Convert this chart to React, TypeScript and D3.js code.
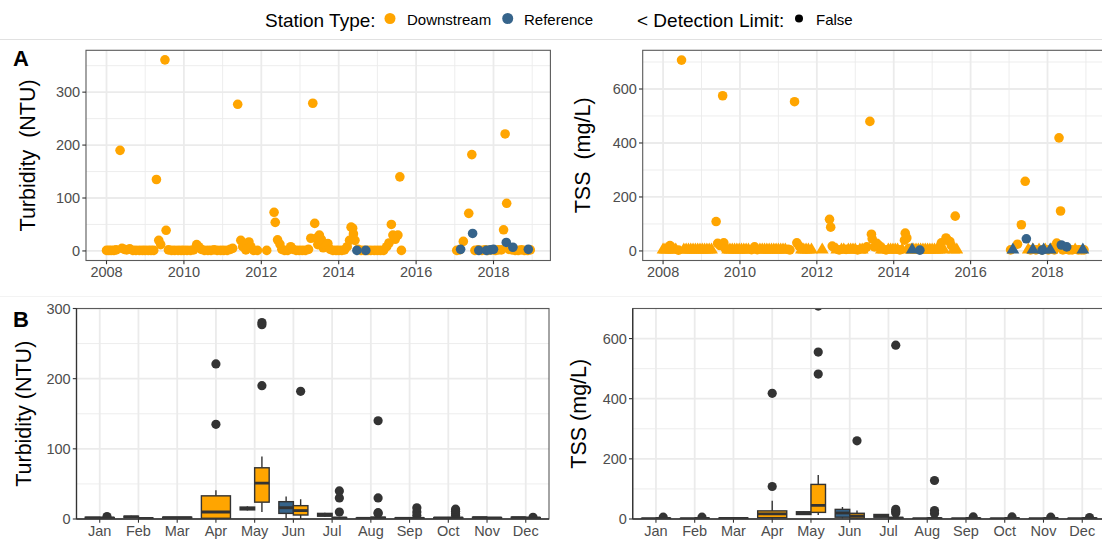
import React from 'react';
import * as d3 from 'd3';

// ---- palette ----
const ORANGE = '#FFA500';
const BLUE = '#36648B';
const DARK = '#333333';
const GRID = '#EBEBEB';

// ---- axis ticks ----
const YEAR_MAJOR = [2008, 2010, 2012, 2014, 2016, 2018];
const YEAR_MINOR = [2009, 2011, 2013, 2015, 2017, 2019];
const MONTHS = ['Jan', 'Feb', 'Mar', 'Apr', 'May', 'Jun', 'Jul', 'Aug', 'Sep', 'Oct', 'Nov', 'Dec'];

// ---- turbidity samples: [decimal year, NTU] ----
const turbDownstream: [number, number][] = [
  [2008.0, 1], [2008.06, 1], [2008.12, 1], [2008.19, 1], [2008.25, 2], [2008.35, 190], [2008.4, 5],
  [2008.46, 3], [2008.52, 2], [2008.6, 4], [2008.68, 1], [2008.76, 1], [2008.85, 1], [2008.93, 1],
  [2009.0, 1], [2009.08, 1], [2009.15, 1], [2009.22, 1], [2009.29, 135], [2009.35, 20], [2009.4, 12],
  [2009.51, 361], [2009.54, 39], [2009.6, 2], [2009.68, 1], [2009.76, 1], [2009.85, 1], [2009.93, 1],
  [2010.0, 1], [2010.08, 1], [2010.17, 1], [2010.25, 2], [2010.33, 12], [2010.38, 8], [2010.45, 3],
  [2010.53, 1], [2010.62, 1], [2010.7, 1], [2010.78, 2], [2010.86, 1], [2010.95, 1], [2011.03, 1],
  [2011.12, 1], [2011.2, 3], [2011.26, 5], [2011.39, 277], [2011.47, 20], [2011.52, 8], [2011.6, 2],
  [2011.68, 17], [2011.73, 8], [2011.8, 1], [2011.9, 1], [2012.14, 1], [2012.33, 73], [2012.36, 54],
  [2012.42, 21], [2012.48, 13], [2012.53, 3], [2012.6, 1], [2012.68, 1], [2012.76, 8], [2012.82, 3],
  [2012.9, 1], [2012.98, 1], [2013.06, 1], [2013.14, 1], [2013.22, 3], [2013.28, 24], [2013.33, 279],
  [2013.38, 52], [2013.42, 24], [2013.46, 12], [2013.5, 30], [2013.55, 22], [2013.6, 6], [2013.66, 10],
  [2013.72, 14], [2013.78, 3], [2013.85, 1], [2013.93, 1], [2014.0, 1], [2014.08, 1], [2014.15, 2],
  [2014.22, 8], [2014.28, 20], [2014.32, 45], [2014.36, 43], [2014.38, 32], [2014.42, 20], [2014.5, 3],
  [2014.58, 1], [2014.66, 1], [2014.75, 1], [2014.83, 1], [2014.92, 1], [2015.0, 1], [2015.08, 1],
  [2015.16, 1], [2015.24, 8], [2015.3, 15], [2015.36, 50], [2015.4, 30], [2015.46, 22], [2015.53, 30],
  [2015.58, 140], [2015.62, 1],
  [2017.05, 1], [2017.12, 2], [2017.22, 18], [2017.36, 71], [2017.44, 182], [2017.52, 1], [2017.6, 2],
  [2017.7, 1], [2017.78, 2], [2017.85, 1], [2017.95, 2], [2018.05, 1], [2018.12, 2], [2018.2, 2],
  [2018.26, 40], [2018.3, 221], [2018.34, 90], [2018.4, 3], [2018.48, 2], [2018.56, 1], [2018.64, 1],
  [2018.72, 2], [2018.8, 1], [2018.88, 1], [2018.95, 2],
];
const turbReference: [number, number][] = [
  [2014.47, 1], [2014.7, 1], [2017.15, 3], [2017.46, 33], [2017.62, 1], [2017.82, 1], [2017.92, 2],
  [2018.0, 3], [2018.33, 16], [2018.5, 7], [2018.9, 3],
];

// ---- TSS samples: [decimal year, mg/L, below detection limit (1) or not (0)] ----
const tssDownstream: [number, number, number][] = [
  [2008.0, 4, 1], [2008.05, 4, 1], [2008.1, 4, 1], [2008.14, 10, 0], [2008.18, 20, 0], [2008.22, 4, 1],
  [2008.28, 4, 1], [2008.33, 4, 1], [2008.4, 3, 0], [2008.48, 707, 0], [2008.54, 4, 1], [2008.6, 4, 1],
  [2008.66, 4, 1], [2008.72, 4, 1], [2008.78, 4, 1], [2008.84, 4, 1], [2008.9, 4, 1], [2008.96, 4, 1],
  [2009.02, 4, 1], [2009.08, 4, 1], [2009.14, 4, 1], [2009.2, 4, 1], [2009.26, 4, 1], [2009.38, 109, 0],
  [2009.42, 28, 0], [2009.48, 20, 0], [2009.55, 575, 0], [2009.58, 30, 0], [2009.62, 8, 0], [2009.68, 4, 1],
  [2009.74, 4, 1], [2009.8, 4, 1], [2009.86, 4, 1], [2009.92, 4, 1], [2009.98, 4, 1], [2010.04, 4, 1],
  [2010.1, 4, 1], [2010.16, 4, 1], [2010.22, 4, 1], [2010.3, 5, 0], [2010.38, 15, 0], [2010.45, 5, 0],
  [2010.52, 4, 1], [2010.58, 4, 1], [2010.64, 4, 1], [2010.7, 4, 1], [2010.76, 4, 1], [2010.82, 4, 1],
  [2010.88, 4, 1], [2010.94, 4, 1], [2011.0, 4, 1], [2011.06, 4, 1], [2011.12, 4, 1], [2011.18, 4, 1],
  [2011.25, 6, 0], [2011.3, 4, 0], [2011.42, 553, 0], [2011.48, 30, 0], [2011.54, 18, 0], [2011.6, 4, 1],
  [2011.66, 4, 1], [2011.72, 4, 1], [2011.78, 4, 1], [2011.86, 4, 1], [2012.14, 4, 1], [2012.33, 117, 0],
  [2012.36, 88, 0], [2012.4, 18, 0], [2012.45, 12, 0], [2012.52, 4, 1], [2012.58, 4, 0], [2012.64, 4, 1],
  [2012.7, 4, 1], [2012.76, 6, 0], [2012.82, 4, 1], [2012.88, 4, 1], [2012.94, 4, 1], [2013.0, 4, 1],
  [2013.06, 4, 0], [2013.12, 4, 1], [2013.18, 4, 1], [2013.24, 8, 0], [2013.3, 15, 0], [2013.38, 480, 0],
  [2013.42, 62, 0], [2013.44, 45, 0], [2013.5, 15, 0], [2013.56, 28, 0], [2013.62, 20, 0], [2013.68, 4, 1],
  [2013.74, 4, 1], [2013.8, 4, 0], [2013.86, 4, 1], [2013.92, 4, 1], [2013.98, 4, 1], [2014.04, 4, 1],
  [2014.1, 4, 1], [2014.16, 4, 0], [2014.22, 4, 1], [2014.28, 40, 0], [2014.3, 66, 0], [2014.34, 48, 0],
  [2014.4, 10, 0], [2014.46, 4, 1], [2014.52, 4, 1], [2014.58, 4, 1], [2014.64, 4, 1], [2014.7, 4, 1],
  [2014.76, 4, 1], [2014.82, 4, 1], [2014.88, 4, 1], [2014.94, 4, 1], [2015.0, 4, 1], [2015.06, 4, 1],
  [2015.12, 4, 1], [2015.18, 4, 1], [2015.24, 30, 0], [2015.3, 4, 1], [2015.36, 48, 0], [2015.4, 40, 0],
  [2015.46, 35, 0], [2015.5, 20, 0], [2015.56, 4, 1], [2015.6, 129, 0], [2015.64, 4, 1],
  [2017.04, 4, 0], [2017.22, 25, 0], [2017.32, 97, 0], [2017.42, 258, 0], [2017.5, 4, 1], [2017.56, 4, 0],
  [2017.62, 4, 1], [2017.7, 4, 0], [2017.78, 4, 1], [2017.86, 4, 0], [2017.94, 4, 1], [2018.02, 4, 0],
  [2018.1, 4, 1], [2018.18, 4, 0], [2018.24, 29, 0], [2018.3, 419, 0], [2018.34, 148, 0], [2018.4, 4, 0],
  [2018.48, 4, 1], [2018.56, 4, 0], [2018.64, 4, 0], [2018.72, 4, 1], [2018.8, 4, 0], [2018.88, 4, 0],
  [2018.95, 4, 0],
];
const tssReference: [number, number, number][] = [
  [2014.48, 4, 1], [2014.68, 3, 0], [2017.1, 4, 1], [2017.45, 45, 0], [2017.62, 4, 1], [2017.86, 3, 0],
  [2017.9, 4, 1], [2018.07, 4, 1], [2018.36, 22, 0], [2018.5, 15, 0], [2018.92, 4, 1],
];

// ---- monthly box statistics: [month, lower whisker, q1, median, q3, upper whisker] ----
type Box = [number, number, number, number, number, number];
const turbBoxReference: Box[] = [
  [1, 0.5, 1, 1.5, 2.5, 3], [2, 2, 2.5, 3, 4, 4.5], [5, 12, 13, 15, 17, 18], [6, 1, 8, 16, 24.7, 32],
  [7, 3, 4, 6, 8, 9], [8, 0.5, 1, 1, 1.5, 2], [9, 0.5, 1, 1, 1.5, 2], [10, 0.5, 1, 1.5, 2, 2.5],
  [11, 1, 1.5, 2, 2.5, 3], [12, 1, 1.5, 2, 2.5, 3],
];
const turbBoxDownstream: Box[] = [
  [1, 0.5, 1, 1.5, 2, 2.5], [2, 0.5, 1, 1, 1.5, 2], [3, 1, 1.5, 2, 2.5, 3], [4, 0, 1, 10, 33, 41],
  [5, 10, 24, 51, 73, 89], [6, 0, 5.7, 12, 19, 28], [7, 0.5, 1, 1.5, 2, 3], [8, 0.5, 1, 1.5, 2.5, 3.5],
  [9, 0.3, 0.8, 1, 1.5, 2.5], [10, 0.5, 1, 1.5, 2, 3], [11, 0.5, 1, 1.5, 2, 2.5], [12, 0.5, 1, 1.5, 2, 2.5],
];
// outliers: [month, value]
const turbOutDownstream: [number, number][] = [
  [1, 3.5], [4, 135], [4, 221], [5, 190], [5, 277], [5, 280], [6, 182], [7, 10], [7, 30], [7, 40],
  [8, 8], [8, 9], [8, 30], [8, 140], [9, 5], [9, 10], [9, 16], [10, 5], [10, 8], [10, 11], [10, 14], [12, 2.5],
];
const turbOutReference: [number, number][] = [];

const tssBoxReference: Box[] = [
  [1, 0, 0.5, 1, 1.5, 2], [2, 0, 0.5, 1, 1.5, 2], [5, 13, 15, 20, 24, 26], [6, 2, 6, 20, 32, 40],
  [7, 5, 6, 10, 15, 17], [8, 0, 0.5, 1, 1.5, 2], [9, 0, 0.5, 1, 1.5, 2], [10, 0, 0.5, 1, 1.5, 2],
  [11, 0, 0.5, 1, 1.5, 2], [12, 0, 0.5, 1, 1.5, 2],
];
const tssBoxDownstream: Box[] = [
  [1, 0, 1, 2, 3, 4], [2, 0, 1, 2, 3, 4], [3, 0, 1, 2, 3, 4], [4, 0, 4.4, 17, 27, 61],
  [5, 13, 22, 45, 115, 146], [6, 0, 3, 10, 19, 28], [7, 0, 1, 3, 5, 8], [8, 0, 1, 2, 3, 5],
  [9, 0, 1, 2, 3, 4], [10, 0, 1, 2, 3, 4], [11, 0, 1, 2, 3, 4], [12, 0, 1, 2, 3, 4],
];
const tssOutDownstream: [number, number][] = [
  [1, 6], [2, 6], [4, 108], [4, 418], [5, 482], [5, 555], [5, 708], [6, 260], [7, 20], [7, 26], [7, 32],
  [7, 578], [8, 18], [8, 28], [8, 128], [9, 7], [10, 7], [11, 6], [12, 5],
];
const tssOutReference: [number, number][] = [];

const FONT = '"Liberation Sans", Arial, Helvetica, sans-serif';
const TICK_FS = 14.5;
const TITLE_FS = 21.5;

type Frame = { x0: number; x1: number; y0: number; y1: number };

function YAxis({ frame, y, ticks, title, titleX }: any) {
  return (
    <g>
      {ticks.map((t: number) => (
        <g key={t}>
          <line x1={frame.x0 - 3.7} x2={frame.x0} y1={y(t)} y2={y(t)} stroke={DARK} strokeWidth={1.1} />
          <text x={frame.x0 - 5.8} y={y(t)} textAnchor="end" dominantBaseline="central" fontSize={TICK_FS} fill="#4D4D4D">
            {t}
          </text>
        </g>
      ))}
      <text
        transform={`translate(${titleX},${(frame.y0 + frame.y1) / 2}) rotate(-90)`}
        textAnchor="middle"
        dominantBaseline="central"
        fontSize={TITLE_FS}
        fill="#000"
        style={{ whiteSpace: 'pre' }}
      >
        {title}
      </text>
    </g>
  );
}

function ScatterPanel({ id, frame, yDomain, yMajor, yMinor, down, refs, title, titleX }: any) {
  const f: Frame = frame;
  const x = d3.scaleLinear().domain([2007.47, 2019.47]).range([f.x0, f.x1]);
  const y = d3.scaleLinear().domain(yDomain).range([f.y1, f.y0]);
  const tri = d3.symbol().type(d3.symbolTriangle).size(72)() as string;
  const mark = (p: number[], color: string, i: number) =>
    p[2] === 1 ? (
      <path key={i} d={tri} transform={`translate(${x(p[0])},${y(p[1])})`} fill={color} />
    ) : (
      <circle key={i} cx={x(p[0])} cy={y(p[1])} r={4.8} fill={color} />
    );
  return (
    <g>
      <defs>
        <clipPath id={id}>
          <rect x={f.x0} y={f.y0} width={f.x1 - f.x0} height={f.y1 - f.y0} />
        </clipPath>
      </defs>
      <g clipPath={`url(#${id})`}>
        {yMinor.map((t: number) => (
          <line key={'ym' + t} x1={f.x0} x2={f.x1} y1={y(t)} y2={y(t)} stroke={GRID} strokeWidth={0.9} />
        ))}
        {YEAR_MINOR.map((t) => (
          <line key={'xm' + t} x1={x(t)} x2={x(t)} y1={f.y0} y2={f.y1} stroke={GRID} strokeWidth={0.9} />
        ))}
        {yMajor.map((t: number) => (
          <line key={'yM' + t} x1={f.x0} x2={f.x1} y1={y(t)} y2={y(t)} stroke={GRID} strokeWidth={1.8} />
        ))}
        {YEAR_MAJOR.map((t) => (
          <line key={'xM' + t} x1={x(t)} x2={x(t)} y1={f.y0} y2={f.y1} stroke={GRID} strokeWidth={1.8} />
        ))}
        {down.map((p: number[], i: number) => mark(p, ORANGE, i))}
        {refs.map((p: number[], i: number) => mark(p, BLUE, i))}
      </g>
      <rect x={f.x0} y={f.y0} width={f.x1 - f.x0} height={f.y1 - f.y0} fill="none" stroke="#5a5a5a" strokeWidth={1.1} />
      {YEAR_MAJOR.map((t) => (
        <g key={'xt' + t}>
          <line x1={x(t)} x2={x(t)} y1={f.y1} y2={f.y1 + 3.7} stroke={DARK} strokeWidth={1.1} />
          <text x={x(t)} y={f.y1 + 16.5} textAnchor="middle" fontSize={TICK_FS} fill="#4D4D4D">
            {t}
          </text>
        </g>
      ))}
      <YAxis frame={f} y={y} ticks={yMajor} title={title} titleX={titleX} />
    </g>
  );
}

function BoxPanel({ id, frame, yMax, yMajor, yMinor, boxRef, boxDown, outRef, outDown, title, titleX }: any) {
  const f: Frame = frame;
  const x = d3.scaleLinear().domain([0.4, 12.6]).range([f.x0, f.x1]);
  const y = d3.scaleLinear().domain([0, yMax]).range([f.y1, f.y0]);
  const step = x(1) - x(0);
  const refMonths = new Set(boxRef.map((b: Box) => b[0]));
  const downMonths = new Set(boxDown.map((b: Box) => b[0]));
  const place = (m: number, isRef: boolean) => {
    const both = refMonths.has(m) && downMonths.has(m);
    if (!both) return { cx: x(m), w: 0.75 * step };
    return { cx: x(m) + (isRef ? -0.1875 : 0.1875) * step, w: 0.375 * step };
  };
  const drawBox = (b: Box, color: string, isRef: boolean) => {
    const [m, lo, q1, med, q3, hi] = b;
    const { cx, w } = place(m, isRef);
    return (
      <g key={(isRef ? 'r' : 'd') + m}>
        <line x1={cx} x2={cx} y1={y(q3)} y2={y(hi)} stroke={DARK} strokeWidth={1.4} />
        <line x1={cx} x2={cx} y1={y(q1)} y2={y(lo)} stroke={DARK} strokeWidth={1.4} />
        <rect x={cx - w / 2} y={y(q3)} width={w} height={Math.max(0, y(q1) - y(q3))} fill={color} stroke={DARK} strokeWidth={1.4} />
        <line x1={cx - w / 2} x2={cx + w / 2} y1={y(med)} y2={y(med)} stroke={DARK} strokeWidth={2.8} />
      </g>
    );
  };
  const drawOut = (o: [number, number], isRef: boolean, i: number) => {
    const { cx } = place(o[0], isRef);
    return <circle key={(isRef ? 'ro' : 'do') + i} cx={cx} cy={y(o[1])} r={4.6} fill={DARK} />;
  };
  return (
    <g>
      <defs>
        <clipPath id={id}>
          <rect x={f.x0} y={f.y0} width={f.x1 - f.x0} height={f.y1 - f.y0} />
        </clipPath>
      </defs>
      <g clipPath={`url(#${id})`}>
        {yMinor.map((t: number) => (
          <line key={'ym' + t} x1={f.x0} x2={f.x1} y1={y(t)} y2={y(t)} stroke={GRID} strokeWidth={0.9} />
        ))}
        {yMajor.map((t: number) => (
          <line key={'yM' + t} x1={f.x0} x2={f.x1} y1={y(t)} y2={y(t)} stroke={GRID} strokeWidth={1.8} />
        ))}
        {MONTHS.map((_, i) => (
          <line key={'xM' + i} x1={x(i + 1)} x2={x(i + 1)} y1={f.y0} y2={f.y1} stroke={GRID} strokeWidth={1.8} />
        ))}
        {boxRef.map((b: Box) => drawBox(b, BLUE, true))}
        {boxDown.map((b: Box) => drawBox(b, ORANGE, false))}
        {outRef.map((o: [number, number], i: number) => drawOut(o, true, i))}
        {outDown.map((o: [number, number], i: number) => drawOut(o, false, i))}
      </g>
      <rect x={f.x0} y={f.y0} width={f.x1 - f.x0} height={f.y1 - f.y0} fill="none" stroke="#5a5a5a" strokeWidth={1.1} />
      <line x1={f.x0} x2={f.x0} y1={f.y0} y2={f.y1} stroke={DARK} strokeWidth={1.3} />
      <line x1={f.x0} x2={f.x1} y1={f.y1} y2={f.y1} stroke={DARK} strokeWidth={1.3} />
      {MONTHS.map((mName, i) => (
        <g key={'xt' + i}>
          <line x1={x(i + 1)} x2={x(i + 1)} y1={f.y1} y2={f.y1 + 3.7} stroke={DARK} strokeWidth={1.1} />
          <text x={x(i + 1)} y={f.y1 + 17} textAnchor="middle" fontSize={TICK_FS} fill="#4D4D4D">
            {mName}
          </text>
        </g>
      ))}
      <YAxis frame={f} y={y} ticks={yMajor} title={title} titleX={titleX} />
    </g>
  );
}

export default function App() {
  return (
    <svg
      width={1102}
      height={546}
      style={{ position: 'absolute', left: 0, top: 0, display: 'block' }}
      fontFamily={FONT}
    >
      <rect width={1102} height={546} fill="#fff" />
      <line x1={0} x2={1102} y1={39.5} y2={39.5} stroke="#e1e1e1" strokeWidth={1} />
      <line x1={0} x2={1102} y1={296.5} y2={296.5} stroke="#f3f3f3" strokeWidth={1} />

      {/* legend */}
      <g>
        <text x={265} y={27} fontSize={19} fill="#000">Station Type:</text>
        <circle cx={390} cy={18.5} r={5.5} fill={ORANGE} />
        <text x={407} y={24.5} fontSize={15} fill="#000">Downstream</text>
        <circle cx={507.7} cy={18.5} r={5.5} fill={BLUE} />
        <text x={524} y={24.5} fontSize={15} fill="#000">Reference</text>
        <text x={637} y={27} fontSize={19} fill="#000">&lt; Detection Limit:</text>
        <circle cx={799} cy={18.5} r={4} fill="#000" />
        <text x={816} y={24.5} fontSize={15} fill="#000">False</text>
      </g>

      <text x={13} y={66} fontSize={22} fontWeight="bold" fill="#000">A</text>
      <text x={13} y={327} fontSize={22} fontWeight="bold" fill="#000">B</text>

      <ScatterPanel
        id="clipA1"
        frame={{ x0: 86, x1: 550.4, y0: 50.3, y1: 260.5 }}
        yDomain={[-18.05, 379.05]}
        yMajor={[0, 100, 200, 300]}
        yMinor={[50, 150, 250, 350]}
        down={turbDownstream}
        refs={turbReference}
        title="Turbidity  (NTU)"
        titleX={28}
      />
      <ScatterPanel
        id="clipA2"
        frame={{ x0: 642.7, x1: 1104, y0: 50.3, y1: 260.5 }}
        yDomain={[-35.4, 743.4]}
        yMajor={[0, 200, 400, 600]}
        yMinor={[100, 300, 500, 700]}
        down={tssDownstream}
        refs={tssReference}
        title="TSS  (mg/L)"
        titleX={583}
      />
      <BoxPanel
        id="clipB1"
        frame={{ x0: 76.5, x1: 549, y0: 308.5, y1: 519 }}
        yMax={300}
        yMajor={[0, 100, 200, 300]}
        yMinor={[50, 150, 250]}
        boxRef={turbBoxReference}
        boxDown={turbBoxDownstream}
        outRef={turbOutReference}
        outDown={turbOutDownstream}
        title="Turbidity (NTU)"
        titleX={24}
      />
      <BoxPanel
        id="clipB2"
        frame={{ x0: 632.7, x1: 1105.5, y0: 308.5, y1: 519 }}
        yMax={700}
        yMajor={[0, 200, 400, 600]}
        yMinor={[100, 300, 500]}
        boxRef={tssBoxReference}
        boxDown={tssBoxDownstream}
        outRef={tssOutReference}
        outDown={tssOutDownstream}
        title="TSS (mg/L)"
        titleX={579}
      />
    </svg>
  );
}
